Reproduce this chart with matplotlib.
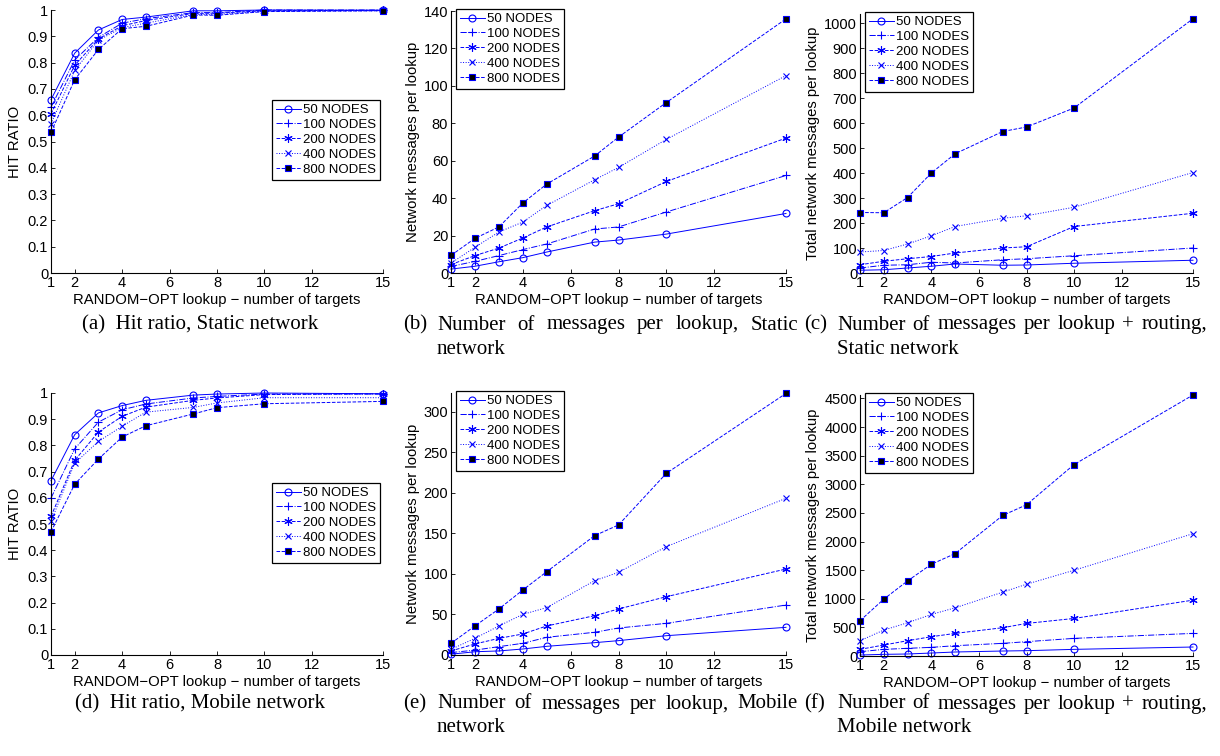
import matplotlib
matplotlib.use('Agg')
import matplotlib.pyplot as plt

plt.rcParams['font.family'] = ['Liberation Sans', 'DejaVu Sans']

X = [1, 2, 3, 4, 5, 7, 8, 10, 15]
X_TICKS = [1, 2, 4, 6, 8, 10, 12, 15]
LABELS = ['50 NODES', '100 NODES', '200 NODES', '400 NODES', '800 NODES']

# (a) hit ratio, static
hit_static_50 = [0.659, 0.836, 0.924, 0.964, 0.973, 0.997, 0.997, 1.0, 0.999]
hit_static_100 = [0.631, 0.810, 0.896, 0.950, 0.967, 0.990, 0.990, 1.0, 1.0]
hit_static_200 = [0.605, 0.790, 0.890, 0.940, 0.960, 0.987, 0.988, 0.997, 0.999]
hit_static_400 = [0.568, 0.770, 0.885, 0.933, 0.950, 0.983, 0.983, 0.995, 0.997]
hit_static_800 = [0.535, 0.735, 0.850, 0.929, 0.938, 0.981, 0.980, 0.994, 0.997]

# (b) messages per lookup, static
msg_static_50 = [2.1, 3.6, 6.0, 8.2, 11.2, 16.5, 17.6, 20.8, 31.8]
msg_static_100 = [3.5, 6.2, 9.3, 12.5, 15.5, 23.5, 24.6, 32.6, 52.1]
msg_static_200 = [4.5, 9.3, 13.3, 18.7, 24.6, 33.3, 37.0, 48.9, 72.1]
msg_static_400 = [5.3, 13.7, 21.9, 27.2, 36.1, 49.8, 56.4, 71.4, 105.5]
msg_static_800 = [9.4, 18.5, 24.6, 37.4, 47.5, 62.5, 72.6, 91.1, 135.8]

# (c) messages per lookup + routing, static
tot_static_50 = [11, 13, 20, 27, 36, 31, 32, 39, 51]
tot_static_100 = [20, 31, 33, 43, 40, 53, 57, 69, 100]
tot_static_200 = [33, 47, 57, 66, 80, 100, 105, 186, 239]
tot_static_400 = [84, 90, 116, 149, 186, 219, 229, 263, 402]
tot_static_800 = [242, 241, 302, 400, 477, 566, 584, 660, 1017]

# (d) hit ratio, mobile
hit_mobile_50 = [0.665, 0.841, 0.924, 0.952, 0.972, 0.992, 0.996, 1.0, 0.997]
hit_mobile_100 = [0.599, 0.787, 0.889, 0.936, 0.958, 0.981, 0.987, 0.996, 0.996]
hit_mobile_200 = [0.529, 0.743, 0.851, 0.911, 0.946, 0.972, 0.981, 0.994, 0.997]
hit_mobile_400 = [0.510, 0.732, 0.815, 0.873, 0.927, 0.945, 0.962, 0.982, 0.982]
hit_mobile_800 = [0.470, 0.652, 0.748, 0.832, 0.875, 0.920, 0.944, 0.959, 0.968]

# (e) messages per lookup, mobile
msg_mobile_50 = [1.0, 4.0, 5.0, 7.4, 10.7, 15.2, 17.7, 23.8, 34.1]
msg_mobile_100 = [3.0, 6.0, 10.3, 14.4, 21.8, 28.0, 33.3, 39.0, 61.6]
msg_mobile_200 = [5.0, 13.6, 20.5, 25.9, 35.8, 48.5, 56.7, 71.9, 106.0]
msg_mobile_400 = [7.0, 20.5, 35.8, 50.1, 58.4, 91.6, 101.9, 133.6, 193.2]
msg_mobile_800 = [14.4, 35.8, 56.7, 80.1, 102.7, 147.1, 160.3, 224.0, 322.5]

# (f) messages per lookup + routing, mobile
tot_mobile_50 = [17, 29, 35, 52, 70, 87, 93, 116, 157]
tot_mobile_100 = [75, 116, 134, 151, 180, 221, 250, 308, 395]
tot_mobile_200 = [116, 192, 267, 337, 395, 494, 569, 656, 976]
tot_mobile_400 = [267, 453, 581, 726, 842, 1115, 1254, 1498, 2137]
tot_mobile_800 = [616, 993, 1312, 1603, 1789, 2456, 2642, 3345, 4560]

STYLES = [
    {'ls': '-', 'marker': 'o', 'mfc': 'none', 'ms': 5},
    {'ls': '-.', 'marker': '+', 'mfc': 'none', 'ms': 6},
    {'ls': '--', 'marker': (6, 2, 0), 'mfc': 'none', 'ms': 6},
    {'ls': ':', 'marker': 'x', 'mfc': 'none', 'ms': 4.5},
    {'ls': '--', 'marker': 's', 'mfc': 'black', 'ms': 4.5},
]

PANELS = [
    # series, rect in px (left, top, right, bottom), ylim, tick step, ylabel, legend, ylabel offset px
    ([hit_static_50, hit_static_100, hit_static_200, hit_static_400, hit_static_800],
     (51, 10, 383, 273), (0, 1), 0.1, 'HIT RATIO', 'right', 36),
    ([msg_static_50, msg_static_100, msg_static_200, msg_static_400, msg_static_800],
     (451, 11, 786, 273), (0, 140), 20, 'Network messages per lookup', 'left', 38),
    ([tot_static_50, tot_static_100, tot_static_200, tot_static_400, tot_static_800],
     (860, 14, 1193, 273), (0, 1036), 100, 'Total network messages per lookup', 'left', 47),
    ([hit_mobile_50, hit_mobile_100, hit_mobile_200, hit_mobile_400, hit_mobile_800],
     (51, 393, 383, 655), (0, 1), 0.1, 'HIT RATIO', 'right', 36),
    ([msg_mobile_50, msg_mobile_100, msg_mobile_200, msg_mobile_400, msg_mobile_800],
     (451, 393, 786, 655), (0, 323), 50, 'Network messages per lookup', 'left', 38),
    ([tot_mobile_50, tot_mobile_100, tot_mobile_200, tot_mobile_400, tot_mobile_800],
     (860, 395, 1193, 656), (0, 4560), 500, 'Total network messages per lookup', 'left', 47),
]

W, H = 1220, 756
fig = plt.figure(figsize=(W / 100, H / 100), dpi=100)


def px_rect(l, t, r, b):
    return [l / W, 1 - b / H, (r - l) / W, (b - t) / H]


for series, rect, ylim, ystep, ylabel, legpos, yoff in PANELS:
    ax = fig.add_axes(px_rect(*rect))
    aw, ah = rect[2] - rect[0], rect[3] - rect[1]
    for vals, st, lab in zip(series, STYLES, LABELS):
        ax.plot(X, vals, color='blue', lw=0.7, ls=st['ls'], marker=st['marker'],
                mfc=st['mfc'], mec='blue', ms=st['ms'], mew=0.8, label=lab, clip_on=False)
    ax.set_xlim(1, 15)
    ax.set_ylim(*ylim)
    ax.set_xticks(X_TICKS)
    n = int(ylim[1] / ystep + 1e-6)
    yt = [round(i * ystep, 2) for i in range(n + 1)]
    ax.set_yticks(yt)
    ax.set_yticklabels([f'{v:g}' for v in yt])
    for s in ['top', 'right']:
        ax.spines[s].set_visible(False)
    for s in ['left', 'bottom']:
        ax.spines[s].set_linewidth(0.8)
    ax.tick_params(direction='in', length=3, width=0.6, labelsize=10.5, pad=2)
    ax.set_xlabel('RANDOM\u2212OPT lookup \u2212 number of targets', fontsize=10.7, labelpad=2)
    ax.set_ylabel(ylabel, fontsize=10.7, va='center')
    ax.yaxis.set_label_coords(-yoff / aw, 0.5)
    legkw = dict(fontsize=9.5, handlelength=1.9, handletextpad=0.15, borderpad=0.3,
                 labelspacing=0.2, borderaxespad=0, fancybox=False, framealpha=1)
    if legpos == 'right':
        leg = ax.legend(loc='upper right', bbox_to_anchor=(329 / aw, 1 - 90 / ah), **legkw)
    else:
        leg = ax.legend(loc='upper left', bbox_to_anchor=(5 / aw, 1 + 2 / ah), **legkw)
    leg.get_frame().set_edgecolor('black')
    leg.get_frame().set_linewidth(0.9)

serif = dict(family=['Liberation Serif', 'DejaVu Serif'], fontsize=15, va='center')


def justify(words, x0, x1, y):
    texts = [fig.text(0, 1 - y / H, w, ha='left', **serif) for w in words]
    fig.canvas.draw()
    r = fig.canvas.get_renderer()
    widths = [t.get_window_extent(r).width for t in texts]
    gap = (x1 - x0 - sum(widths)) / max(len(words) - 1, 1)
    x = x0
    for t, w in zip(texts, widths):
        t.set_x(x / W)
        x += w + gap


for row_y, kind in [(325, 'Static'), (704, 'Mobile')]:
    tag = 'a' if kind == 'Static' else 'd'
    fig.text(200 / W, 1 - row_y / H, f'({tag})  Hit ratio, {kind} network', ha='center', **serif)
    tag = 'b' if kind == 'Static' else 'e'
    fig.text(403 / W, 1 - row_y / H, f'({tag})', ha='left', **serif)
    justify(['Number', 'of', 'messages', 'per', 'lookup,', kind], 437, 798, row_y)
    fig.text(437 / W, 1 - (row_y + 24) / H, 'network', ha='left', **serif)
    tag = 'c' if kind == 'Static' else 'f'
    fig.text(804 / W, 1 - row_y / H, f'({tag})', ha='left', **serif)
    justify(['Number', 'of', 'messages', 'per', 'lookup', '+', 'routing,'], 837, 1207, row_y)
    fig.text(837 / W, 1 - (row_y + 24) / H, f'{kind} network', ha='left', **serif)

fig.savefig('out.png', dpi=100)
